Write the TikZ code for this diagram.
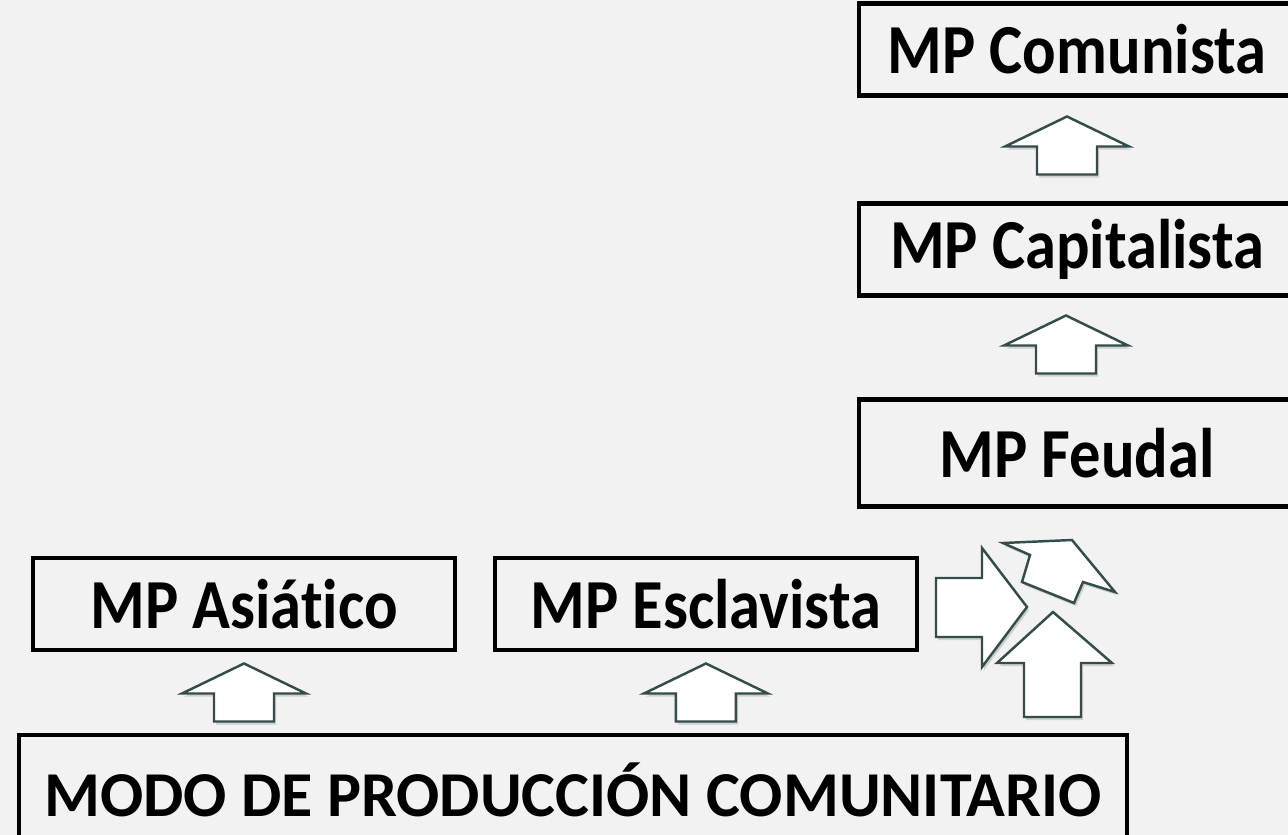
\documentclass[tikz,border=0pt]{standalone}
\usepackage{fontspec}
\setmainfont{Carlito}[Ligatures=NoCommon]
\newfontfamily\mpfont{Carlito}[Ligatures=NoCommon, FakeStretch=0.89]
\usetikzlibrary{positioning,calc,shadows}

\definecolor{bggray}{RGB}{242,242,242}
\definecolor{arrowline}{RGB}{52,76,76}

\tikzset{
  blockarrow/.style={draw=arrowline, fill=white, line width=1.4pt, line join=miter,
    drop shadow={opacity=0.3, shadow xshift=1.2pt, shadow yshift=-1.8pt}},
  uparr/.pic={\draw[blockarrow] (0,-29) -- (62,1) -- (30,1) -- (30,29) -- (-30,29) -- (-30,1) -- (-62,1) -- cycle;}
}

\begin{document}
\begin{tikzpicture}[x=0.02cm, y=-0.02cm,
  mpbox/.style={draw, line width=2.3pt, inner sep=0pt, minimum width=8.44cm, minimum height=1.84cm,
    font=\mpfont\fontsize{40}{46}\selectfont\bfseries},
  wide/.style={minimum width=8.72cm}]

  \fill[bggray] (0,0) rectangle (1288,835);
  \clip (0,0) rectangle (1288,835);

  \node[mpbox, minimum width=22.16cm, minimum height=2.2cm,
        font=\fontsize{36.4}{42}\selectfont\bfseries] (modo) at (573,790) {MODO DE PRODUCCIÓN COMUNITARIO};
  \node[mpbox]                  (asia)   at (244,604)           {MP Asiático};
  \node[mpbox]                  (escl)   [right=0.72cm of asia] {MP Esclavista};
  \node[mpbox, wide, minimum height=2.14cm] (feudal) at (1077,453) {MP Feudal};
  \node[mpbox, wide]            (capi)   [above=2cm of feudal]  {MP Capitalista};
  \node[mpbox, wide]            (comu)   [above=2.08cm of capi] {MP Comunista};

  % arrows between the boxes
  \pic at ($(asia.south)!.5!(asia.south|-modo.north)$) {uparr};
  \pic at ($(escl.south)!.5!(escl.south|-modo.north)$) {uparr};
  \pic at ($(capi.south)!.5!(feudal.north)+(-11,-3)$) {uparr};
  \pic at ($(comu.south)!.5!(capi.north)+(-10,-4)$) {uparr};

  % three ways out of the communal mode
  \draw[blockarrow] (936,578) -- (982,578) -- (982,548) -- (1027,607) -- (982,667) -- (982,637) -- (936,637) -- cycle;
  \draw[blockarrow] (1003,543) -- (1072,540) -- (1115,592) -- (1083,582) -- (1074,603) -- (1022,582) -- (1030,555) -- cycle;
  \draw[blockarrow] (1053,612) -- (1112,663) -- (1081,663) -- (1081,717) -- (1024,717) -- (1024,663) -- (997,663) -- cycle;

\end{tikzpicture}
\end{document}
